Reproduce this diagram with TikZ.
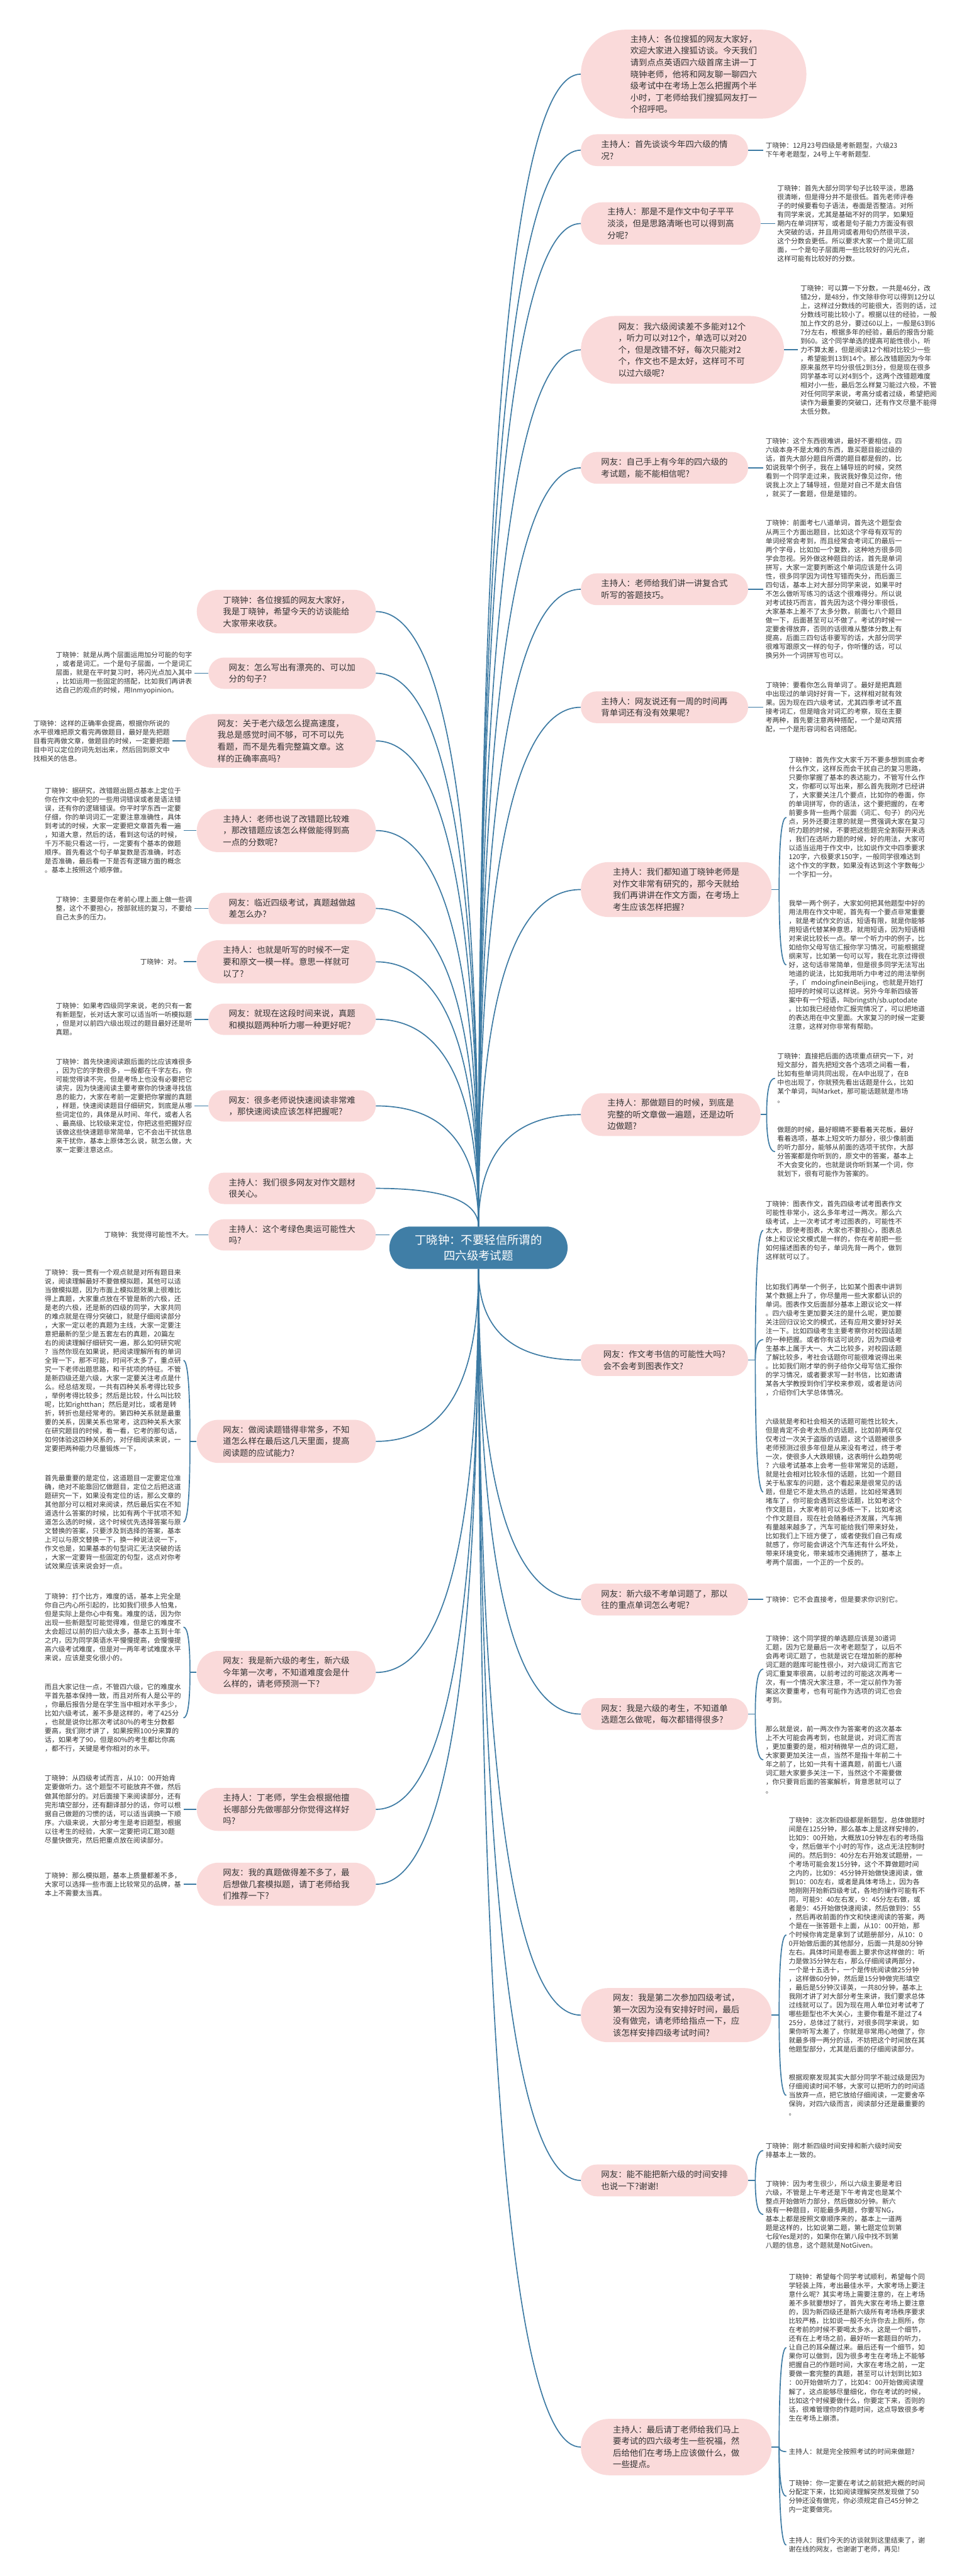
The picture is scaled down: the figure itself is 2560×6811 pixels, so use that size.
\documentclass[tikz,border=0pt]{standalone}
\usepackage{fontspec}
\setmainfont{Noto Sans CJK SC}
\usetikzlibrary{shapes.misc,calc}
\definecolor{pinkc}{RGB}{250,218,218}
\definecolor{linec}{RGB}{60,122,163}
\definecolor{centc}{RGB}{64,126,166}
\definecolor{txtc}{RGB}{51,51,51}
\newcommand\pnfont{\fontsize{11.15pt}{15.45pt}\selectfont}
\newcommand\lffont{\fontsize{9pt}{11.65pt}\selectfont}
\newcommand\cnfont{\fontsize{15.3pt}{20pt}\selectfont}
\newcommand\qc[2]{\draw[conn] let \p1=(#1), \p2=(#2) in (\p1) .. controls (\x1,{\y1+0.6667*(\y2-\y1)}) and ({\x2+0.6667*(\x1-\x2)},\y2) .. (\p2);}
\tikzset{
 pnode/.style={rounded rectangle, fill=pinkc, text=txtc, font=\pnfont, align=left, inner sep=0pt},
 leaf/.style={font=\lffont, text=txtc, align=left, inner sep=3pt, anchor=west},
 conn/.style={draw=linec, line width=1.4pt},
 cnode/.style={rounded rectangle, fill=centc, text=white, font=\cnfont, align=center, inner sep=0pt, minimum width=235.5pt, minimum height=56pt}
}
\begin{document}
\begin{tikzpicture}[x=0.5pt,y=-0.5pt]
\fill[white] (0,0) rectangle (2560,6811);
\useasboundingbox (0,0) rectangle (2560,6811);

% central node
\node[cnode] (c) at (1264.5,3299) {丁晓钟：不要轻信所谓的\\四六级考试题};

% right nodes
\node[pnode, minimum width=298pt, minimum height=117.5pt] (R1) at (1833,196) {主持人：各位搜狐的网友大家好，\\欢迎大家进入搜狐访谈。今天我们\\请到点点英语四六级首席主讲一丁\\晓钟老师，他将和网友聊一聊四六\\级考试中在考场上怎么把握两个半\\小时，丁老师给我们搜狐网友打一\\个招呼吧。};
\node[pnode, minimum width=221pt, minimum height=42pt] (R2) at (1756,397) {主持人：首先谈谈今年四六级的情\\况?};
\node[pnode, minimum width=237.5pt, minimum height=56pt] (R3) at (1772.5,591) {主持人：那是不是作文中句子平平\\淡淡，但是思路清晰也可以得到高\\分呢?};
\node[pnode, minimum width=268.5pt, minimum height=89.5pt] (R4) at (1803.5,925) {网友：我六级阅读差不多能对12个\\，听力可以对12个，单选可以对20\\个，但是改错不好，每次只能对2\\个，作文也不是太好，这样可不可\\以过六级呢?};
\node[pnode, minimum width=221pt, minimum height=42pt] (R5) at (1756,1237) {网友：自己手上有今年的四六级的\\考试题，能不能相信呢?};
\node[pnode, minimum width=221pt, minimum height=42pt] (R6) at (1756,1558) {主持人：老师给我们讲一讲复合式\\听写的答题技巧。};
\node[pnode, minimum width=221pt, minimum height=42pt] (R7) at (1756,1870) {主持人：网友说还有一周的时间再\\背单词还有没有效果呢?};
\node[pnode, minimum width=252pt, minimum height=72.5pt] (R8) at (1787,2352) {主持人：我们都知道丁晓钟老师是\\对作文非常有研究的，那今天就给\\我们再讲讲在作文方面，在考场上\\考生应该怎样把握?};
\node[pnode, minimum width=237.5pt, minimum height=56.5pt] (R9) at (1772.5,2947) {主持人：那做题目的时候，到底是\\完整的听文章做一遍题，还是边听\\边做题?};
\node[pnode, minimum width=221pt, minimum height=42pt] (R10) at (1756,3596) {网友：作文考书信的可能性大吗?\\会不会考到图表作文?};
\node[pnode, minimum width=221pt, minimum height=42pt] (R11) at (1756,4229) {网友：新六级不考单词题了，那以\\往的重点单词怎么考呢?};
\node[pnode, minimum width=221pt, minimum height=42pt] (R12) at (1756,4532) {网友：我是六级的考生，不知道单\\选题怎么做呢，每次都错得很多?};
\node[pnode, minimum width=252pt, minimum height=71.5pt] (R13) at (1787,5328) {网友：我是第二次参加四级考试，\\第一次因为没有安排好时间，最后\\没有做完，请老师给指点一下，应\\该怎样安排四级考试时间?};
\node[pnode, minimum width=221pt, minimum height=42pt] (R14) at (1756,5765) {网友：能不能把新六级的时间安排\\也说一下?谢谢!};
\node[pnode, minimum width=252pt, minimum height=74.5pt] (R15) at (1787,6470) {主持人：最后请丁老师给我们马上\\要考试的四六级考生一些祝福，然\\后给他们在考场上应该做什么，做\\一些提点。};

% left nodes
\node[pnode, minimum width=236.5pt, minimum height=57.5pt] (L1) at (756.5,1617) {丁晓钟：各位搜狐的网友大家好，\\我是丁晓钟，希望今天的访谈能给\\大家带来收获。};
\node[pnode, minimum width=221pt, minimum height=41.5pt] (L2) at (772,1780) {网友：怎么写出有漂亮的、可以加\\分的句子?};
\node[pnode, minimum width=251pt, minimum height=71pt] (L3) at (742,1959) {网友：关于老六级怎么提高速度，\\我总是感觉时间不够，可不可以先\\看题，而不是先看完整篇文章。这\\样的正确率高吗?};
\node[pnode, minimum width=236.5pt, minimum height=57pt] (L4) at (756.5,2196) {主持人：老师也说了改错题比较难\\，那改错题应该怎么样做能得到高\\一点的分数呢?};
\node[pnode, minimum width=221pt, minimum height=41.5pt] (L5) at (772,2402) {网友：临近四级考试，真题越做越\\差怎么办?};
\node[pnode, minimum width=236.5pt, minimum height=57pt] (L6) at (756.5,2543) {主持人：也就是听写的时候不一定\\要和原文一模一样。意思一样就可\\以了?};
\node[pnode, minimum width=221pt, minimum height=41.5pt] (L7) at (772,2695) {网友：就现在这段时间来说，真题\\和模拟题两种听力哪一种更好呢?};
\node[pnode, minimum width=221pt, minimum height=41.5pt] (L8) at (772,2924) {网友：很多老师说快速阅读非常难\\，那快速阅读应该怎样把握呢?};
\node[pnode, minimum width=221pt, minimum height=41.5pt] (L9) at (772,3142) {主持人：我们很多网友对作文题材\\很关心。};
\node[pnode, minimum width=221pt, minimum height=41.5pt] (L10) at (772,3265) {主持人：这个考绿色奥运可能性大\\吗?};
\node[pnode, minimum width=236.5pt, minimum height=57pt] (L11) at (756.5,3811) {网友：做阅读题错得非常多，不知\\道怎么样在最后这几天里面，提高\\阅读题的应试能力?};
\node[pnode, minimum width=236.5pt, minimum height=57pt] (L12) at (756.5,4422) {网友：我是新六级的考生，新六级\\今年第一次考，不知道难度会是什\\么样的，请老师预测一下?};
\node[pnode, minimum width=236.5pt, minimum height=57pt] (L13) at (756.5,4784) {主持人：丁老师，学生会根据他擅\\长哪部分先做哪部分你觉得这样好\\吗?};
\node[pnode, minimum width=236.5pt, minimum height=57pt] (L14) at (756.5,4982) {网友：我的真题做得差不多了，最\\后想做几套模拟题，请丁老师给我\\们推荐一下?};

% right leaves
\node[leaf] (R2a) at (2017,397) {丁晓钟：12月23号四级是考新题型，六级23\\下午考老题型，24号上午考新题型.};
\node[leaf] (R3a) at (2048,591) {丁晓钟：首先大部分同学句子比较平淡，思路\\很清晰，但是得分并不是很低。首先老师评卷\\子的时候要看句子语法，卷面是否整洁。对所\\有同学来说，尤其是基础不好的同学，如果短\\期内在单词拼写，或者是句子能力方面没有很\\大突破的话，并且用词或者用句仍然很平淡，\\这个分数会更低。所以要求大家一个是词汇层\\面，一个是句子层面用一些比较好的闪光点，\\这样可能有比较好的分数。};
\node[leaf] (R4a) at (2109,925) {丁晓钟：可以算一下分数，一共是46分，改\\错2分，是48分，作文除非你可以得到12分以\\上，这样过分数线的可能很大，否则的话，过\\分数线可能比较小了。根据以往的经验，一般\\加上作文的总分，要过60以上，一般是63到6\\7分左右，根据多年的经验，最后的报告分能\\到60。这个同学单选的提高可能性很小，听\\力不算太差，但是阅读12个相对比较少一些\\，希望能到13到14个。那么改错题因为今年\\原来虽然平均分很低2到3分，但是现在很多\\同学基本可以对4到5个，这两个改错题难度\\相对小一些，最后怎么样复习能过六极，不管\\对任何同学来说，考高分或者过级，希望把阅\\读作为最重要的突破口，还有作文尽量不能得\\太低分数。};
\node[leaf] (R5a) at (2017,1237) {丁晓钟：这个东西很难讲，最好不要相信，四\\六级本身不是太难的东西，靠买题目能过级的\\话，首先大部分题目所谓的题目都是假的，比\\如说我举个例子，我在上辅导班的时候，突然\\看到一个同学走过来，我说我好像见过你，他\\说我上次上了辅导班，但是对自己不是太自信\\，就买了一套题，但是是错的。};
\node[leaf] (R6a) at (2017,1558) {丁晓钟：前面考七八道单词，首先这个题型会\\从两三个方面出题目，比如这个字母有双写的\\单词经常会考到，而且经常会考词汇的最后一\\两个字母，比如加一个复数，这种地方很多同\\学会忽视。另外做这种题目的话，首先是单词\\拼写，大家一定要判断这个单词应该是什么词\\性，很多同学因为词性写错而失分，而后面三\\四句话，基本上对大部分同学来说，如果平时\\不怎么做听写练习的话这个很难得分。所以说\\对考试技巧而言，首先因为这个得分率很低，\\大家基本上差不了太多分数，前面七八个题目\\做一下，后面甚至可以不做了。考试的时候一\\定要舍得放弃，否则的话很难从整体分数上有\\提高，后面三四句话非要写的话，大部分同学\\很难写跟原文一样的句子，你听懂的话，可以\\换另外一个词拼写也可以。};
\node[leaf] (R7a) at (2017,1870) {丁晓钟：要看你怎么背单词了。最好是把真题\\中出现过的单词好好背一下，这样相对就有效\\果。因为现在四六级考试，尤其四季考试不直\\接考词汇，但是暗含对词汇的考察，现在主要\\考两种，首先要注意两种搭配，一个是动宾搭\\配，一个是形容词和名词搭配。};
\node[leaf] (R8a) at (2078,2161) {丁晓钟：首先作文大家千万不要多想到底会考\\什么作文，这样反而会干扰自己的复习思路，\\只要你掌握了基本的表达能力，不管写什么作\\文，你都可以写出来，那么首先我刚才已经讲\\了，大家要关注几个要点，比如你的卷面，你\\的单词拼写，你的语法，这个要把握的，在考\\前要多背一些两个层面（词汇、句子）的闪光\\点，另外还要注意的就是一贯强调大家在复习\\听力题的时候，不要把这些题完全割裂开来选\\，我们在选听力题的时候，好的用法，大家可\\以适当运用于作文中，比如说作文中四季要求\\120字，六极要求150字，一般同学很难达到\\这个作文的字数，如果没有达到这个字数每少\\一个字扣一分。};
\node[leaf] (R8b) at (2078,2551) {我举一两个例子，大家如何把其他题型中好的\\用法用在作文中呢，首先有一个要点非常重要\\，就是考试作文的话，短语有限，就是你能够\\用短语代替某种意思，就用短语，因为短语相\\对来说比较长一点。举一个听力中的例子，比\\如给你父母写信汇报你学习情况，可能根据提\\纲来写，比如第一句可以写，我在北京过得很\\好，这句话非常简单，但是很多同学无法写出\\地道的说法，比如我用听力中考过的用法举例\\子，I'mdoingfineinBeijing，也就是开始打\\招呼的时候可以这样说。另外今年新四级答\\案中有一个短语，叫bringsth/sb.uptodate\\。比如我已经给你汇报完情况了，可以把地道\\的表达用在中文里面。大家复习的时候一定要\\注意，这样对你非常有帮助。};
\node[leaf] (R9a) at (2048,2851) {丁晓钟：直接把后面的选项重点研究一下，对\\短文部分，首先把短文各个选项之间看一看，\\比如有些单词共同出现，在A中出现了，在B\\中也出现了，你就预先看出话题是什么，比如\\某个单词，叫Market，那可能话题就是市场\\。};
\node[leaf] (R9b) at (2048,3045) {做题的时候，最好眼睛不要看着天花板，最好\\看着选项，基本上短文听力部分，很少像前面\\的听力部分，能够从前面的选项干扰你，大部\\分答案都是你听到的，原文中的答案，基本上\\不大会变化的，也就是说你听到某一个词，你\\就划下，很有可能作为答案的。};
\node[leaf] (R10a) at (2017,3253) {丁晓钟：图表作文，首先四级考试考图表作文\\可能性非常小，这么多年考过一两次。那么六\\级考试，上一次考试才考过图表的，可能性不\\太大，即使考图表，大家也不要担心，图表总\\体上和议论文模式是一样的，你在考前把一些\\如何描述图表的句子，单词先背一两个，做到\\这样就可以了。};
\node[leaf] (R10b) at (2017,3542) {比如我们再举一个例子，比如某个图表中讲到\\某个数据上升了，你尽量用一些大家都认识的\\单词。图表作文后面部分基本上跟议论文一样\\。四六级考生更加要关注的是什么呢，更加要\\关注回归议论文的模式，还有应用文要好好关\\注一下。比如四级考生主要考察你对校园话题\\的一种把握。或者你有话可说的，因为四级考\\生基本上属于大一、大二比较多，对校园话题\\了解比较多，考社会话题你可能很难说得出来\\。比如我们刚才举的例子给你父母写信汇报你\\的学习情况，或者要求写一封书信，比如邀请\\某各大学教授到你们学校来参观，或者是访问\\，介绍你们大学总体情况。};
\node[leaf] (R10c) at (2017,3945) {六级就是考和社会相关的话题可能性比较大，\\但是肯定不会考太热点的话题，比如前两年仅\\仅考过一次关于盗版的话题，这个话题被很多\\老师预测过很多年但是从来没有考过，终于考\\一次，使很多人大跌眼镜，这表明什么趋势呢\\？六级考试基本上会考一些非常常见的话题，\\就是社会相对比较永恒的话题，比如一个题目\\关于私家车的问题，这个看起来是很常见的话\\题，但是它不是太热点的话题，比如经常遇到\\堵车了，你可能会遇到这些话题，比如考这个\\作文题目，大家考前可以多练一下，比如考这\\个作文题目，现在社会随着经济发展，汽车拥\\有量越来越多了，汽车可能给我们带来好处，\\比如我们上下班方便了，或者使我们自己有成\\就感了，你可能会讲这个汽车还有什么坏处，\\带来环境变化，带来城市交通拥挤了，基本上\\考两个层面，一个正的一个反的。};
\node[leaf] (R11a) at (2017,4229) {丁晓钟：它不会直接考，但是要求你识别它。};
\node[leaf] (R12a) at (2017,4413) {丁晓钟：这个同学提的单选题应该是30道词\\汇题，因为它是最后一次考老题型了，以后不\\会再考词汇题了，也就是说它在增加新的那种\\词汇题的题库可能性很小，对六级词汇而言它\\词汇重复率很高，以前考过的可能这次再考一\\次，有一个情况大家注意，不一定以前作为答\\案这次要重考，也有可能作为选项的词汇也会\\考到。};
\node[leaf] (R12b) at (2017,4653) {那么就是说，前一两次作为答案考的这次基本\\上不大可能会再考到，也就是说，对词汇而言\\，更加重要的是，相对稍微早一点的词汇题，\\大家要更加关注一点，当然不是指十年前二十\\年之前了，比如一共有十道真题，前面七八道\\词汇题大家要多关注一下，当然这个不需要做\\，你只要背后面的答案解析，背意思就可以了\\。};
\node[leaf] (R13a) at (2078,5116) {丁晓钟：这次新四级都是新题型，总体做题时\\间是在125分钟，那么基本上是这样安排的，\\比如9：00开始，大概放10分钟左右的考场指\\令，然后做半个小时的写作，这点无法控制时\\间的。然后到9：40分左右开始发试题册，一\\个考场可能会发15分钟，这个不算做题时间\\之内的，比如9：45分钟开始做快速阅读，做\\到10：00左右，或者是具体考场上，因为各\\地刚刚开始新四级考试，各地的操作可能有不\\同，可能9：40左右发，9：45分左右做，或\\者是9：45开始做快速阅读，然后做到9：55\\，然后再收前面的作文和快速阅读的答案，两\\个是在一张答题卡上面，从10：00开始，那\\个时候你肯定是拿到了试题册部分，从10：0\\0开始做后面的其他部分，后面一共是80分钟\\左右。具体时间是卷面上要求你这样做的：听\\力是做35分钟左右，那么仔细阅读两部分，\\一个是十五选十，一个是传统阅读做25分钟\\，这样做60分钟，然后是15分钟做完形填空\\，最后是5分钟汉译英，一共80分钟，基本上\\我刚才讲了对大部分考生来讲，我们要求总体\\过线就可以了。因为现在用人单位对考试考了\\哪些题型也不大关心，主要你看是不是过了4\\25分，总体过了就行，对很多同学来说，如\\果你听写太差了，你就是非常用心地做了，你\\就最多得一两分的话，不妨把这个时间放在其\\他题型部分，尤其是后面的仔细阅读部分。};
\node[leaf] (R13b) at (2078,5540) {根据观察发现其实大部分同学不能过级是因为\\仔细阅读时间不够，大家可以把听力的时间适\\当放弃一点，把它放给仔细阅读，一定要舍卒\\保驹，对四六级而言，阅读部分还是最重要的\\。};
\node[leaf] (R14a) at (2017,5686) {丁晓钟：刚才新四级时间安排和新六级时间安\\排基本上一致的。};
\node[leaf] (R14b) at (2017,5855) {丁晓钟：因为考生很少，所以六级主要是考旧\\六级，不管是上午考还是下午考肯定也是某个\\整点开始做听力部分，然后做80分钟。新六\\级有一种题目，可能最多两题，你要写NG，\\基本上都是按照文章顺序来的，基本上一道两\\题是这样的，比如说第二题，第七题定位到第\\七段Yes是对的，如果你在第八段中找不到第\\八题的信息，这个题就是NotGiven。};
\node[leaf] (R15a) at (2078,6207) {丁晓钟：希望每个同学考试顺利，希望每个同\\学轻装上阵，考出最佳水平，大家考场上要注\\意什么呢？其实考场上需要注意的，在上考场\\差不多就要想好了，首先大家在考场上要注意\\的，因为新四级还是新六级所有考场秩序要求\\比较严格，比如说一般不允许你去上厕所，你\\在考前的时候不要喝太多水，这是一个细节，\\还有在上考场之前，最好听一套题目的听力，\\让自己的耳朵醒过来。最后还有一个细节，如\\果你可以做到，因为很多考生在考场上不能够\\把握自己的作题时间，大家在考场之前，一定\\要做一套完整的真题，甚至可以计划到比如3\\：00开始做听力了，比如4：00开始做阅读理\\解了，这点能够尽量细化，你在考试的时候，\\比如这个时候要做什么，你要定下来，否则的\\话，很难管理你的作题时间，这点导致很多考\\生在考场上崩溃。};
\node[leaf] (R15b) at (2078,6482) {主持人：就是完全按照考试的时间来做题?};
\node[leaf] (R15c) at (2078,6600) {丁晓钟：你一定要在考试之前就把大概的时间\\分配定下来，比如阅读理解突然发现做了50\\分钟还没有做完，你必须规定自己45分钟之\\内一定要做完。};
\node[leaf] (R15d) at (2078,6729) {主持人：我们今天的访谈就到这里结束了，谢\\谢在线的网友，也谢谢丁老师，再见!};

% left leaves
\node[leaf] (L2a) at (141,1780) {丁晓钟：就是从两个层面运用加分可能的句字\\，或者是词汇。一个是句子层面，一个是词汇\\层面，就是在平时复习时，将闪光点加入其中\\，比如运用一些固定的搭配，比如我们再讲表\\达自己的观点的时候，用Inmyopinion。};
\node[leaf] (L3a) at (82,1959) {丁晓钟：这样的正确率会提高，根据你所说的\\水平很难把原文看完再做题目，最好是先把题\\目看完再做文章，做题目的时候，一定要把题\\目中可以定位的词先划出来，然后回到原文中\\找相关的信息。};
\node[leaf] (L4a) at (112,2196) {丁晓钟：据研究，改错题出题点基本上定位于\\你在作文中会犯的一些用词错误或者是语法错\\误，还有你的逻辑错误。你平时学东西一定要\\仔细，你的单词词汇一定要注意准确性，具体\\到考试的时候，大家一定要把文章首先看一遍\\，知道大意，然后的话，看到这句话的时候，\\千万不能只看这一行，一定要有个基本的做题\\顺序。首先看这个句子单复数是否准确，时态\\是否准确，最后看一下是否有逻辑方面的概念\\。基本上按照这个顺序做。};
\node[leaf] (L5a) at (141,2402) {丁晓钟：主要是你在考前心理上面上做一些调\\整，这个不要担心，按部就班的复习，不要给\\自己太多的压力。};
\node[leaf] (L6a) at (364,2543) {丁晓钟：对。};
\node[leaf] (L7a) at (141,2695) {丁晓钟：如果考四级同学来说，老的只有一套\\有新题型，长对话大家可以适当听一听模拟题\\，但是对以前四六级出现过的题目最好还是听\\真题。};
\node[leaf] (L8a) at (141,2924) {丁晓钟：首先快速阅读跟后面的比应该难很多\\，因为它的字数很多，一般都在千字左右，你\\可能觉得读不完，但是考场上也没有必要把它\\读完，因为快速阅读主要考察你的快速寻找信\\息的能力，大家在考前一定要把你掌握的真题\\，样题，快速阅读题目仔细研究，到底是从哪\\些词定位的，具体是从时间、年代，或者人名\\、最高级、比较级来定位，你把这些把握好应\\该做这些快速题非常简单，它不会出干扰信息\\来干扰你，基本上原体怎么说，就怎么做，大\\家一定要注意这点。};
\node[leaf] (L10a) at (269,3265) {丁晓钟：我觉得可能性不大。};
\node[leaf] (L11a) at (112,3597) {丁晓钟：我一贯有一个观点就是对所有题目来\\说，阅读理解最好不要做模拟题，其他可以适\\当做模拟题，因为市面上模拟题效果上很难比\\得上真题，大家重点放在不管是新的六极，还\\是老的六极，还是新的四级的同学，大家共同\\的难点就是在得分突破口，就是仔细阅读部分\\，大家一定以老的真题为主线，大家一定要注\\意把最新的至少是五套左右的真题，20篇左\\右的阅读理解仔细研究一遍，那么如何研究呢\\？当然你现在如果说，把阅读理解所有的单词\\全背一下，那不可能，时间不太多了，重点研\\究一下老师出题思路，和干扰项的特征。不管\\是新四级还是六级，大家一定要关注考点是什\\么。经总结发现，一共有四种关系考得比较多\\，举例考得比较多；然后是比较，什么叫比较\\呢，比如rightthan；然后是对比，或者是转\\折，转折也是经常考的。第四种关系就是最重\\要的关系，因果关系也常考，这四种关系大家\\在研究题目的时候，看一看，它考的那句话，\\如何体验这四种关系的，对仔细阅读来说，一\\定要把两种能力尽量锻炼一下，};
\node[leaf] (L11b) at (112,4024) {首先最重要的是定位，这道题目一定要定位准\\确，绝对不能靠回忆做题目，定位之后把这道\\题研究一下，如果没有定位的话，那么文章的\\其他部分可以相对来阅读，然后最后实在不知\\道选什么答案的时候，比如有两个干扰项不知\\道怎么选的时候，这个时候优先选择答案与原\\文替换的答案，只要涉及到选择的答案，基本\\上可以与原文替换一下，换一种说法说一下，\\作文也是，如果基本的句型词汇无法突破的话\\，大家一定要背一些固定的句型，这点对你考\\试效果应该来说会好一点。};
\node[leaf] (L12a) at (112,4302) {丁晓钟：打个比方，难度的话，基本上完全是\\你自己内心所引起的，比如我们很多人怕鬼，\\但是实际上是你心中有鬼。难度的话，因为你\\出现一些新题型可能觉得难，但是它的难度不\\太会超过以前的旧六级太多，基本上五到十年\\之内，因为同学英语水平慢慢提高，会慢慢提\\高六级考试难度，但是对一两年考试难度水平\\来说，应该是变化很小的。};
\node[leaf] (L12b) at (112,4542) {而且大家记住一点，不管四六级，它的难度水\\平首先基本保持一致，而且对所有人是公平的\\，你最后报告分是在学生当中相对水平多少，\\比如六级考试，差不多是这样的，考了425分\\，也就是说你比那次考试80\%的考生分数都\\要高，我们刚才讲了，如果按照100分来算的\\话，如果考了90，但是80\%的考生都比你高\\，都不行，关键是考你相对的水平。};
\node[leaf] (L13a) at (112,4784) {丁晓钟：从四级考试而言，从10：00开始肯\\定要做听力。这个题型不可能放弃不做，然后\\做其他部分的。对后面接下来阅读部分，还有\\完形填空部分，还有翻译部分的话，你可以根\\据自己做题的习惯的话，可以适当调换一下顺\\序。六级来说，大部分考生是考旧题型，根据\\以往考生的经验，大家一定要把词汇题30题\\尽量快做完，然后把重点放在阅读部分。};
\node[leaf] (L14a) at (112,4982) {丁晓钟：那么模拟题，基本上质量都差不多，\\大家可以选择一些市面上比较常见的品牌，基\\本上不需要太当真。};

% junction coordinates for brackets
\coordinate (j8) at (2059,2352);
\coordinate (j9) at (2026,2947);
\coordinate (j10) at (1996,3596);
\coordinate (j12) at (1996,4532);
\coordinate (j13) at (2059,5328);
\coordinate (j14) at (1996,5765);
\coordinate (j15) at (2059,6470);
\coordinate (k11) at (502,3811);
\coordinate (k12) at (502,4422);

% main connectors
\foreach \nm in {R1,R2,R3,R4,R5,R6,R7,R8,R9} {\qc{c.north}{\nm.west}}
\foreach \nm in {L1,L2,L3,L4,L5,L6,L7,L8,L9} {\qc{c.north}{\nm.east}}
\foreach \nm in {R10,R11,R12,R13,R14,R15} {\qc{c.south}{\nm.west}}
\foreach \nm in {L11,L12,L13,L14} {\qc{c.south}{\nm.east}}
\draw[conn] (L10.east) -- (L10.east -| c.west);

% single leaf connectors
\foreach \nm in {R2,R3,R4,R5,R6,R7,R11} {\draw[conn] (\nm.east) -- (\nm a.west);}
\foreach \nm in {L2,L3,L4,L5,L6,L7,L8,L10,L13,L14} {\draw[conn] (\nm a.east) -- (\nm.west);}

% brackets right
\draw[conn] (R8.east) -- (j8); \qc{j8}{R8a.west} \qc{j8}{R8b.west}
\draw[conn] (R9.east) -- (j9); \qc{j9}{R9a.west} \qc{j9}{R9b.west}
\draw[conn] (R10.east) -- (j10); \qc{j10}{R10a.west} \qc{j10}{R10b.west} \qc{j10}{R10c.west}
\draw[conn] (R12.east) -- (j12); \qc{j12}{R12a.west} \qc{j12}{R12b.west}
\draw[conn] (R13.east) -- (j13); \qc{j13}{R13a.west} \qc{j13}{R13b.west}
\draw[conn] (R14.east) -- (j14); \qc{j14}{R14a.west} \qc{j14}{R14b.west}
\draw[conn] (R15.east) -- (j15); \qc{j15}{R15a.west} \qc{j15}{R15b.west} \qc{j15}{R15c.west} \qc{j15}{R15d.west}
% brackets left
\draw[conn] (L11.west) -- (k11); \qc{k11}{L11a.east} \qc{k11}{L11b.east}
\draw[conn] (L12.west) -- (k12); \qc{k12}{L12a.east} \qc{k12}{L12b.east}
\end{tikzpicture}
\end{document}
